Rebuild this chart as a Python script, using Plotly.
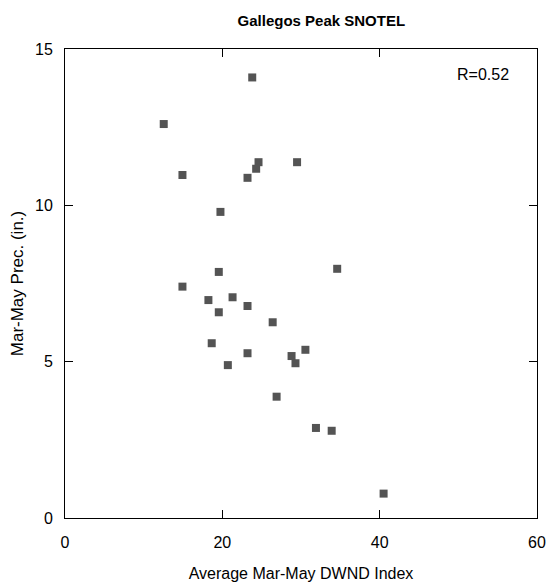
import plotly.graph_objects as go

dwnd = [12.55, 14.93, 23.8, 24.6, 24.3, 23.2, 29.5, 19.76, 19.55, 14.93,
        18.23, 21.3, 23.2, 19.55, 26.4, 34.6, 18.65, 23.2, 20.7, 28.8,
        30.56, 29.3, 26.9, 31.9, 33.9, 40.5]
prec = [12.6, 10.97, 14.09, 11.38, 11.17, 10.88, 11.38, 9.79, 7.87, 7.40,
        6.97, 7.06, 6.78, 6.58, 6.26, 7.97, 5.59, 5.27, 4.89, 5.18,
        5.38, 4.95, 3.88, 2.88, 2.79, 0.78]

x_ticks = [0, 20, 40, 60]
y_ticks = [0, 5, 10, 15]

font = "Liberation Sans, Arial, sans-serif"

fig = go.Figure()
fig.add_trace(go.Scatter(
    x=dwnd, y=prec, mode="markers",
    marker=dict(symbol="square", size=8, color="#545454", line=dict(width=0)),
    showlegend=False, hoverinfo="skip"))

axis_common = dict(
    showgrid=False, zeroline=False, showline=True, linecolor="black", linewidth=1,
    mirror="ticks", ticks="inside", ticklen=8, tickcolor="black", tickwidth=1,
    tickfont=dict(family=font, size=16, color="black"), automargin=False,
)

fig.update_xaxes(range=[0, 60], tickvals=x_ticks, ticklabelstandoff=10,
                 title=dict(text="Average Mar-May DWND Index",
                            font=dict(family=font, size=16, color="black"), standoff=17),
                 **axis_common)
fig.update_yaxes(range=[0, 15], tickvals=y_ticks, ticklabelstandoff=8,
                 title=dict(text="Mar-May Prec. (in.)",
                            font=dict(family=font, size=17, color="black"), standoff=7),
                 **axis_common)

fig.add_annotation(text="R=0.52", xref="paper", yref="paper", x=0.945, y=0.945,
                   xanchor="right", yanchor="middle", showarrow=False,
                   font=dict(family=font, size=16, color="black"))

fig.update_layout(
    width=555, height=585,
    margin=dict(l=65, r=18, t=49, b=67),
    paper_bgcolor="white", plot_bgcolor="white",
    title=dict(text="<b>Gallegos Peak SNOTEL</b>", x=0.579, xanchor="center",
               y=0.965, yanchor="middle",
               font=dict(family=font, size=15, color="black")),
)

fig.write_html("out.html")
